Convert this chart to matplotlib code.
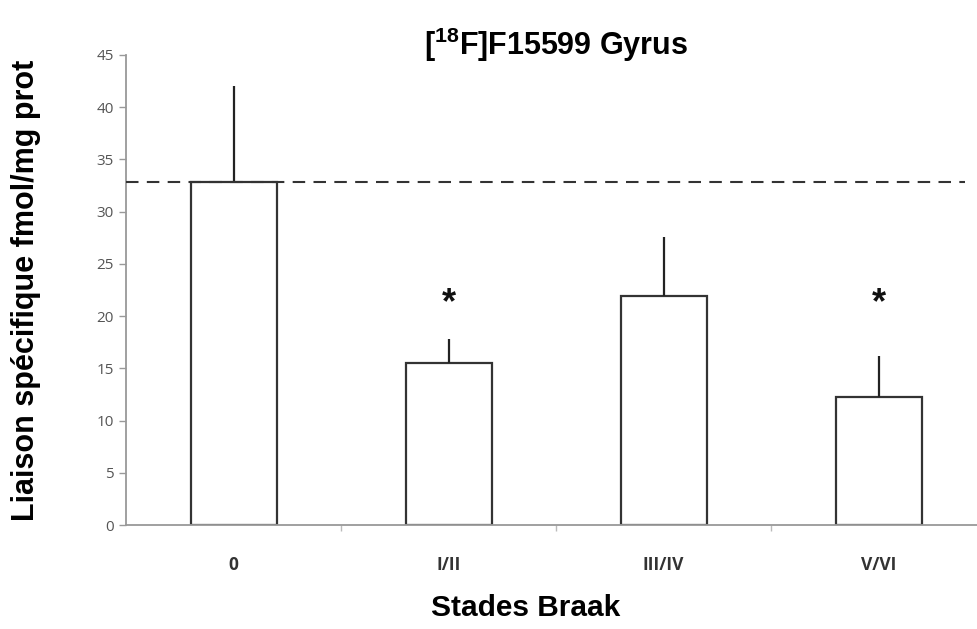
import matplotlib
matplotlib.use('Agg')
import matplotlib.pyplot as plt

# data
stages = ['0', 'I/II', 'III/IV', 'V/VI']
means = [32.8, 15.5, 21.9, 12.3]
sem = [9.2, 2.3, 5.7, 3.9]
signif = ['', '*', '', '*']
control_level = 32.8

plt.rcParams['font.family'] = ['Liberation Sans', 'DejaVu Sans']
plt.rcParams['mathtext.fontset'] = 'custom'
plt.rcParams['mathtext.rm'] = 'Liberation Sans:bold'
plt.rcParams['mathtext.bf'] = 'Liberation Sans:bold'

fig = plt.figure(figsize=(9.77, 6.29), dpi=100, facecolor='white')
ax = fig.add_axes([0.129, 0.1653, 0.871, 0.7473])

x = list(range(len(stages)))
ax.bar(x, means, width=0.4, color='white', edgecolor='#333333', linewidth=1.6, zorder=2)
# only the upper half of the error bars
ax.errorbar(x, means, yerr=[[0] * len(sem), sem], fmt='none', ecolor='#222222',
            elinewidth=1.6, capsize=0, zorder=3)

ax.hlines(control_level, -0.5, 3.40, colors='#333333', linestyles=(0, (6, 4)),
          linewidth=1.5, zorder=4)

for i, s in enumerate(signif):
    if s:
        ax.text(i, 21.2, s, ha='center', va='center', fontsize=26, fontweight='bold',
                color='#111111')

ax.set_xlim(-0.5, 3.458)
ax.set_ylim(0, 45)
ax.set_yticks(range(0, 46, 5))
ax.set_xticks(x)
ax.set_xticklabels(stages)
for lab in ax.get_xticklabels():
    lab.set_fontproperties({'family': 'Open Sans', 'weight': 'bold', 'size': 12.5})
    lab.set_color('#333333')
ax.set_xticks([0.5, 1.5, 2.5], minor=True)
ax.tick_params(axis='x', which='major', length=0, pad=22)
ax.tick_params(axis='x', which='minor', length=4, color='#bbbbbb', width=1)
ax.tick_params(axis='y', length=5, color='#999999', width=1,
               labelcolor='#555555', pad=4)
for lab in ax.get_yticklabels():
    lab.set_fontproperties({'family': 'Open Sans', 'size': 11})

for side in ['top', 'right']:
    ax.spines[side].set_visible(False)
for side in ['left', 'bottom']:
    ax.spines[side].set_color('#999999')
    ax.spines[side].set_linewidth(1.3)

ax.set_xlabel('Stades Braak', fontsize=21.5, fontweight='bold')
ax.xaxis.set_label_coords(0.47, -0.146)
ax.set_ylabel('Liaison spécifique fmol/mg prot', fontsize=22, fontweight='bold')
ax.yaxis.set_label_coords(-0.1, 0.5)
ax.set_title('[$^{18}$F]F15599 Gyrus', fontsize=22, fontweight='bold', y=1.0, pad=0, x=0.505)

fig.savefig('out.png', dpi=100, facecolor='white')
